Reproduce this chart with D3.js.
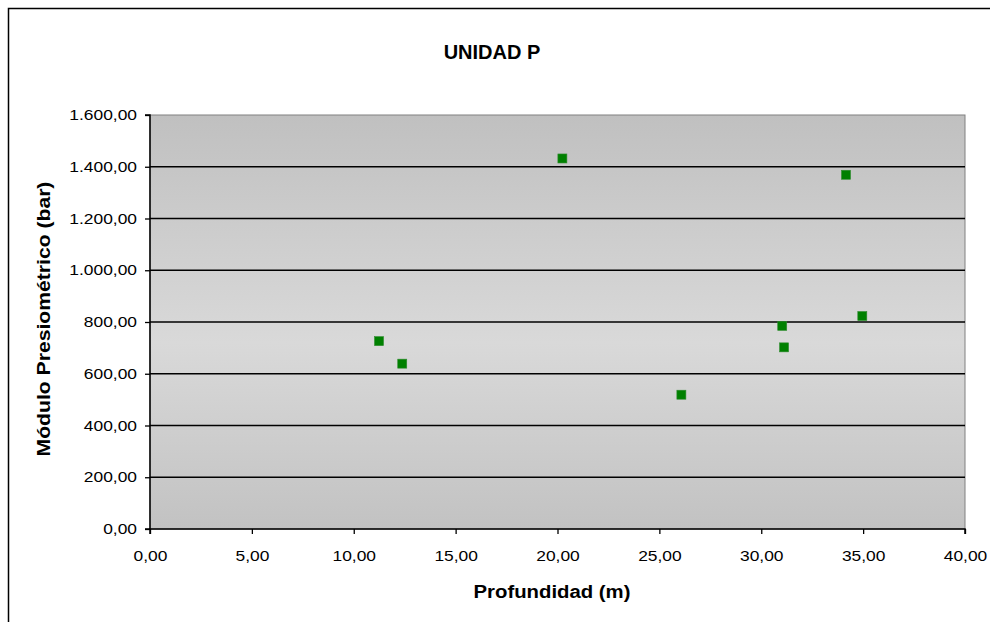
<!DOCTYPE html>
<html><head><meta charset="utf-8">
<script src="https://cdn.jsdelivr.net/npm/d3@7"></script>
<style>body{margin:0;background:#fff;}svg{display:block;font-family:"Liberation Sans",Arial,sans-serif;}</style>
</head><body>
<svg id="c" width="990" height="622"></svg>
<script>
const depth = [11.24, 12.38, 20.24, 26.08, 31.03, 31.12, 34.16, 34.96];
const modulus = [726, 639, 1432, 519, 785, 702, 1369, 823];
const xTicks = [0, 5, 10, 15, 20, 25, 30, 35, 40];
const yTicks = [0, 200, 400, 600, 800, 1000, 1200, 1400, 1600];
const title = "UNIDAD P";
const xLabel = "Profundidad (m)";
const yLabel = "Módulo Presiométrico (bar)";

const svg = d3.select("#c");
const L = 150, R = 965, T = 115, B = 529;
const x = d3.scaleLinear().domain([0, 40]).range([L, R]);
const y = d3.scaleLinear().domain([0, 1600]).range([B, T]);
const fmt = v => {
  const s = v.toFixed(2).split(".");
  const i = s[0].replace(/\B(?=(\d{3})+(?!\d))/g, ".");
  return i + "," + s[1];
};

// outer border
svg.append("rect").attr("x", 8.5).attr("y", 8.5).attr("width", 1000).attr("height", 1000)
  .attr("fill", "#fff").attr("stroke", "#000").attr("stroke-width", 1.5);

// gradient
const defs = svg.append("defs");
const g = defs.append("linearGradient").attr("id", "bg").attr("x1", 0).attr("y1", 0).attr("x2", 0).attr("y2", 1);
g.append("stop").attr("offset", "0%").attr("stop-color", "#c0c0c0");
g.append("stop").attr("offset", "55%").attr("stop-color", "#d9d9d9");
g.append("stop").attr("offset", "100%").attr("stop-color", "#c2c2c2");

svg.append("rect").attr("x", L).attr("y", T).attr("width", R - L).attr("height", B - T)
  .attr("fill", "url(#bg)").attr("stroke", "#808080").attr("stroke-width", 1);

// gridlines
svg.append("g").selectAll("line").data(yTicks.filter(d => d > 0 && d < 1600)).join("line")
  .attr("x1", L).attr("x2", R).attr("y1", d => y(d)).attr("y2", d => y(d))
  .attr("stroke", "#000").attr("stroke-width", 1.3);

// axes
const SX = 1.2;
const yAxis = svg.append("g").attr("transform", `translate(${L},0)`)
  .call(d3.axisLeft(y).tickValues(yTicks).tickFormat(fmt).tickSize(5).tickPadding(8));
const xAxis = svg.append("g").attr("transform", `translate(0,${B})`)
  .call(d3.axisBottom(x).tickValues(xTicks).tickFormat(fmt).tickSize(5).tickPadding(17));
[yAxis, xAxis].forEach(a => {
  a.select(".domain").attr("stroke", "#000").attr("stroke-width", 1.5);
  a.selectAll(".tick line").attr("stroke", "#000").attr("stroke-width", 1.3);
  a.selectAll("text").attr("font-size", 14.5).attr("fill", "#000")
    .attr("font-family", "'Liberation Sans', Arial, sans-serif")
    .each(function() {
      const t = d3.select(this);
      const x0 = +t.attr("x") || 0;
      t.attr("x", x0 / SX).attr("transform", `scale(${SX},1)`);
    });
});
yAxis.select(".domain").attr("d", `M-5,${B}H0V${T}H-5`);
xAxis.select(".domain").attr("d", `M${L},5V0H${R}V5`);

// points
const s = 9;
svg.append("g").selectAll("rect").data(depth.map((d, i) => [d, modulus[i]])).join("rect")
  .attr("x", d => x(d[0]) - s / 2).attr("y", d => y(d[1]) - s / 2)
  .attr("width", s).attr("height", s)
  .attr("fill", "#008000").attr("stroke", "#2e8b2e").attr("stroke-width", 0.6);

// texts
svg.append("text").attr("x", 492).attr("y", 59).attr("text-anchor", "middle")
  .attr("font-size", 20).attr("font-weight", "bold").text(title);
svg.append("text").attr("transform", "translate(552,598) scale(1.13,1)").attr("text-anchor", "middle")
  .attr("font-size", 18).attr("font-weight", "bold").text(xLabel);
svg.append("text").attr("transform", "translate(50,319) rotate(-90) scale(1.175,1)").attr("text-anchor", "middle")
  .attr("font-size", 18).attr("font-weight", "bold").text(yLabel);
</script>
</body></html>
